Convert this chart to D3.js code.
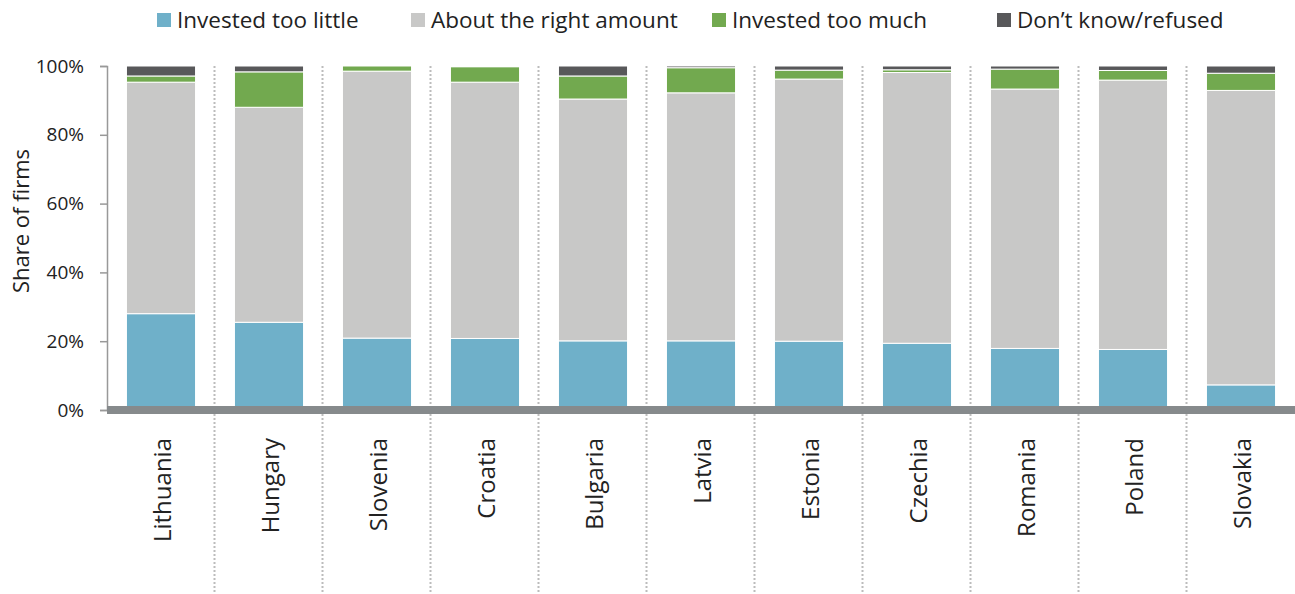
<!DOCTYPE html>
<html>
<head>
<meta charset="utf-8">
<script src="https://cdn.jsdelivr.net/npm/d3@7"></script>
<style>
  body { margin: 0; background: #fff; }
  text { font-family: "Open Sans", "Noto Sans", sans-serif; fill: #222; }
</style>
</head>
<body>
<div id="chart"></div>
<script>
const countries = ["Lithuania", "Hungary", "Slovenia", "Croatia", "Bulgaria", "Latvia", "Estonia", "Czechia", "Romania", "Poland", "Slovakia"]
const tooLittle = [28.0, 25.5, 20.9, 20.8, 20.1, 20.1, 20.0, 19.4, 17.9, 17.6, 7.3]
const rightAmount = [67.3, 62.5, 77.6, 74.5, 70.3, 72.1, 76.2, 78.7, 75.4, 78.3, 85.6]
const tooMuch = [1.8, 10.3, 1.5, 4.5, 6.7, 7.3, 2.6, 0.8, 5.8, 2.8, 5.0]
const dontKnow = [2.9, 1.7, 0, 0.2, 2.9, 0.5, 1.2, 1.1, 0.9, 1.3, 2.1]
const seriesNames = ["Invested too little", "About the right amount", "Invested too much", "Don\u2019t know/refused"]
const yTicks = [0, 20, 40, 60, 80, 100]

const colors = ["#6fb0c9", "#c8c8c7", "#72a94f", "#58585a"]
const width = 1295, height = 594
const margin = { top: 66, right: 0, bottom: 184, left: 107 }

const svg = d3.select("#chart").append("svg")
    .attr("width", width).attr("height", height)

const rows = countries.map((c, i) => ({
    country: c, s0: tooLittle[i], s1: rightAmount[i], s2: tooMuch[i], s3: dontKnow[i]
}))
const stack = d3.stack().keys(["s0", "s1", "s2", "s3"])(rows)

const x = d3.scaleBand().domain(countries).range([margin.left, width - margin.right]).paddingInner(0.36).paddingOuter(0.18)
const y = d3.scaleLinear().domain([0, 100]).range([height - margin.bottom, margin.top])

// dotted separators between categories
const step = x.step()
svg.append("g").selectAll("line").data(countries.slice(1)).join("line")
    .attr("x1", d => x(d) - x.paddingInner() * step / 2 - 0.5)
    .attr("x2", d => x(d) - x.paddingInner() * step / 2 - 0.5)
    .attr("y1", y(100)).attr("y2", height)
    .attr("stroke", "#bcbcbc").attr("stroke-width", 2).attr("stroke-dasharray", "2,2")

svg.append("g").selectAll("g").data(stack).join("g")
    .attr("fill", (d, i) => colors[i])
    .selectAll("rect").data(d => d).join("rect")
    .attr("x", d => x(d.data.country))
    .attr("width", x.bandwidth())
    .attr("y", d => y(d[1]))
    .attr("height", d => Math.max(0, y(d[0]) - y(d[1])))
    .attr("stroke", "#fff").attr("stroke-width", 1)

// y axis
const yAxis = svg.append("g").attr("transform", `translate(${margin.left},0)`)
    .call(d3.axisLeft(y).tickValues(yTicks).tickFormat(d => d + "%").tickSize(7).tickPadding(16))
yAxis.select(".domain").attr("stroke", "#999").attr("stroke-width", 1.5)
yAxis.selectAll(".tick line").attr("stroke", "#999").attr("stroke-width", 1.5)
yAxis.selectAll("text").attr("font-size", 19).attr("fill", "#222")
    .style("font-family", "'Open Sans', sans-serif")

// thick baseline
svg.append("line")
    .attr("x1", margin.left).attr("x2", width)
    .attr("y1", y(0)).attr("y2", y(0))
    .attr("stroke", "#868a8c").attr("stroke-width", 8)

// x labels
svg.append("g").selectAll("text").data(countries).join("text")
    .attr("transform", d => `translate(${x(d) + x.bandwidth() / 2 + 10},${y(0) + 28}) rotate(-90)`)
    .attr("text-anchor", "end")
    .attr("font-size", 24)
    .text(d => d)

// y title
svg.append("text")
    .attr("transform", `translate(29,${(y(0) + y(100)) / 2 - 17}) rotate(-90)`)
    .attr("text-anchor", "middle")
    .attr("font-size", 22)
    .text("Share of firms")

// legend
const legendX = [157, 411, 712, 997]
const legend = svg.append("g").selectAll("g").data(seriesNames).join("g")
    .attr("transform", (d, i) => `translate(${legendX[i]},20)`)
legend.append("rect").attr("x", 0).attr("y", -7).attr("width", 14).attr("height", 14)
    .attr("fill", (d, i) => colors[i])
legend.append("text").attr("x", 20).attr("y", 0).attr("dy", "0.35em")
    .attr("font-size", 22.5).text(d => d)
</script>
</body>
</html>
